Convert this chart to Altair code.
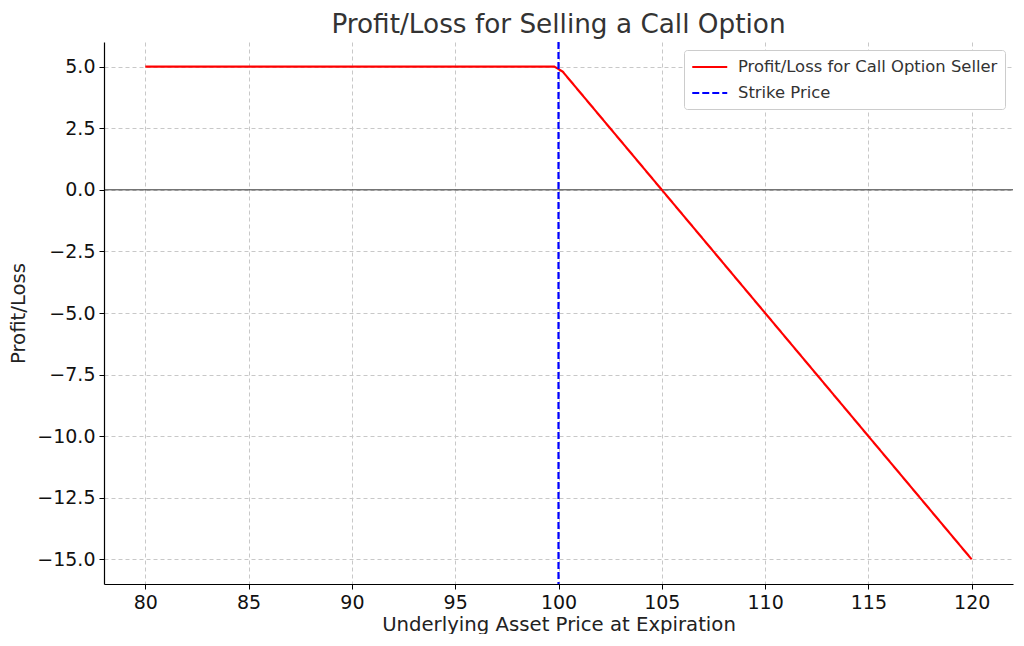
import altair as alt
import pandas as pd

# Data
price = [80, 99.8, 100.2, 120]
pnl = [5.0, 5.0, 4.8, -15.0]
strike = [100]
series_names = ["Profit/Loss for Call Option Seller", "Strike Price"]

line_df = pd.DataFrame({"price": price, "pnl": pnl, "series": series_names[0]})
strike_df = pd.DataFrame({"price": strike, "series": series_names[1]})
zero_df = pd.DataFrame({"y": [0]})

FONT = "DejaVu Sans"

xscale = alt.Scale(domain=[78, 122], nice=False, zero=False)
yscale = alt.Scale(domain=[-16, 6], nice=False, zero=False)

color = alt.Color(
    "series:N",
    scale=alt.Scale(domain=series_names, range=["#ff0000", "#0000ff"]),
    legend=alt.Legend(
        title=None,
        orient="top-right",
        symbolType="M-1,0H3",
        symbolSize=306,
        symbolStrokeWidth=2,
        symbolFillColor="transparent",
        labelFontSize=16.4,
        labelFont=FONT,
        labelColor="#333333",
        labelLimit=0,
        labelOffset=27,
        strokeColor="#cccccc",
        fillColor="white",
        padding=7,
        cornerRadius=3,
        rowPadding=7,
        offset=8,
    ),
)
dash = alt.StrokeDash(
    "series:N",
    scale=alt.Scale(domain=series_names, range=[[1, 0], [7, 3]]),
    legend=alt.Legend(title=None, orient="top-right"),
)

xaxis = alt.Axis(
    title="Underlying Asset Price at Expiration",
    values=[80, 85, 90, 95, 100, 105, 110, 115, 120],
    gridDash=[4, 3], gridColor="#c8c8c8",
)
yaxis = alt.Axis(
    title="Profit/Loss",
    values=[5.0, 2.5, 0.0, -2.5, -5.0, -7.5, -10.0, -12.5, -15.0],
    format=".1f",
    gridDash=[4, 3], gridColor="#c8c8c8",
)

pl_line = alt.Chart(line_df).mark_line(strokeWidth=2.2).encode(
    x=alt.X("price:Q", scale=xscale, axis=xaxis),
    y=alt.Y("pnl:Q", scale=yscale, axis=yaxis),
    color=color,
    strokeDash=dash,
)

zero_line = alt.Chart(zero_df).mark_rule(color="black", strokeWidth=0.8).encode(
    y=alt.Y("y:Q", scale=yscale)
)

strike_line = alt.Chart(strike_df).mark_rule(strokeWidth=2.2).encode(
    x=alt.X("price:Q", scale=xscale),
    color=color,
    strokeDash=dash,
)

chart = alt.layer(zero_line, pl_line, strike_line).properties(
    width=909,
    height=542,
    padding={"left": 0, "top": 3, "right": 0, "bottom": 0},
    title=alt.Title("Profit/Loss for Selling a Call Option", fontSize=26.3, font=FONT,
                    fontWeight="normal", color="#333333", offset=3),
).configure_view(stroke=None).configure_axis(
    labelFont=FONT, titleFont=FONT, labelFontSize=19, titleFontSize=19.7,
    labelColor="#111111", titleColor="#222222", titleFontWeight="normal",
    domainColor="black", tickColor="black", tickSize=5, domainWidth=1.2,
    labelPadding=4,
).configure_axisX(titlePadding=2).configure_axisY(titlePadding=8)

chart.save("out.html", embed_options={"renderer": "svg", "actions": False})
